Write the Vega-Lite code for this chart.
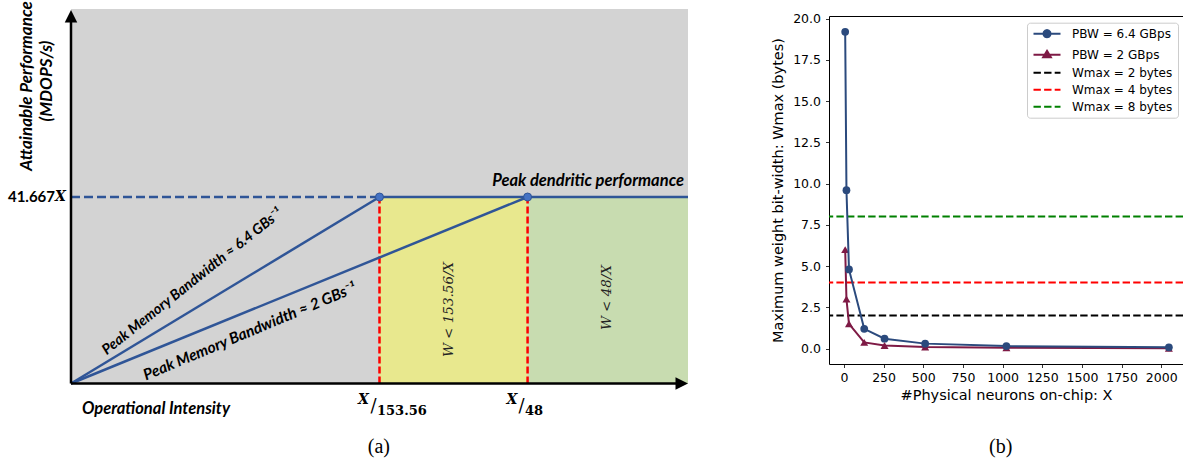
{
  "$schema": "https://vega.github.io/schema/vega-lite/v6.json",
  "padding": 0,
  "background": "white",
  "config": {
    "view": {"stroke": null},
    "font": "DejaVu Sans",
    "axis": {"labelFont": "DejaVu Sans", "labelFontSize": 12.5, "labelColor": "#000", "tickColor": "#000", "tickSize": 3.5, "tickWidth": 0.8, "domain": false, "grid": false, "titleFont": "DejaVu Sans", "titleFontSize": 14.5, "titleFontWeight": "normal", "titleColor": "#000", "labelFlush": false, "labelOverlap": false},
    "axisX": {"labelPadding": 4, "titlePadding": 4},
    "axisY": {"labelPadding": 5, "titlePadding": 7},
    "legend": {"title": null, "orient": "none", "legendX": 1027, "legendY": 22.7, "symbolSize": 81, "symbolStrokeWidth": 2, "symbolOpacity": 1, "labelFont": "DejaVu Sans", "labelFontSize": 12, "labelColor": "#000", "labelOffset": 28, "rowPadding": 5, "padding": 5, "fillColor": "#ffffff", "strokeColor": "#cccccc", "cornerRadius": 3}
  },
  "datasets": {
    "a_hatch": [{"region": "memory-bound area", "x": 0, "x2": 100, "y": 0, "y2": 200.8}],
    "a_yellow": [{"region": "W < 153.56/X", "x": 50, "x2": 74, "y": 0, "y2": 100}],
    "a_green": [{"region": "W < 48/X", "x": 74, "x2": 100, "y": 0, "y2": 100}],
    "a_guide": [{"x": 0, "y": 100, "x2": 50, "y2": 100}],
    "a_bounds": [{"x": 50, "y": 0, "x2": 50, "y2": 100}, {"x": 74, "y": 0, "x2": 74, "y2": 100}],
    "a_roof": [{"seg": "6.4 GBps slope", "x": 0, "y": 0, "x2": 50, "y2": 100}, {"seg": "2 GBps slope", "x": 0, "y": 0, "x2": 74, "y2": 100}, {"seg": "peak", "x": 50, "y": 100, "x2": 100, "y2": 100}],
    "a_axes": [{"x": 0, "y": 0, "x2": 98.5, "y2": 0}, {"x": 0, "y": 0, "x2": 0, "y2": 194}],
    "a_arrow_up": [{"x": 0, "y": 200.3}],
    "a_arrow_right": [{"x": 100, "y": 0}],
    "a_knees": [{"x": 50, "y": 100}, {"x": 74, "y": 100}],
    "a_ytitle": [{"text": "Attainable Performance", "x": -7.13, "y": 159.5}, {"text": "(MDOPS/s)", "x": -3.89, "y": 162.2}],
    "a_yval": [{"text": "41.667", "x": -2.59, "y": 100}],
    "a_yvalX": [{"text": "X", "x": -2.59, "y": 100}],
    "a_xtitle": [{"text": "Operational Intensity", "x": 1.78, "y": -13.7}],
    "a_peak": [{"text": "Peak dendritic performance", "x": 99.35, "y": 108.6}],
    "a_slope64": [{"text": "Peak Memory Bandwidth ≈ 6.4 GBs⁻¹", "x": 19.7, "y": 54.5}],
    "a_slope2": [{"text": "Peak Memory Bandwidth ≈ 2 GBs⁻¹", "x": 29.0, "y": 27.9}],
    "a_wregion": [{"text": "W < 153.56/X", "x": 61.26, "y": 39.7}, {"text": "W < 48/X", "x": 86.8, "y": 46.1}],
    "a_xtickX": [{"text": "X", "x": 47.4, "y": -8.85}, {"text": "X", "x": 71.47, "y": -8.85}],
    "a_xtickSlash": [{"text": "/", "x": 49.03, "y": -12.6}, {"text": "/", "x": 73.0, "y": -12.6}],
    "a_xtickNum": [{"text": "153.56", "x": 49.6, "y": -14.75}, {"text": "48", "x": 73.58, "y": -14.75}],
    "a_caption": [{"text": "(a)", "x": 49.9, "y": -34.0}],
    "bw": [
      {"X": 8, "W": 19.2, "series": "PBW = 6.4 GBps"},
      {"X": 16, "W": 9.6, "series": "PBW = 6.4 GBps"},
      {"X": 32, "W": 4.8, "series": "PBW = 6.4 GBps"},
      {"X": 128, "W": 1.2, "series": "PBW = 6.4 GBps"},
      {"X": 256, "W": 0.6, "series": "PBW = 6.4 GBps"},
      {"X": 512, "W": 0.3, "series": "PBW = 6.4 GBps"},
      {"X": 1024, "W": 0.15, "series": "PBW = 6.4 GBps"},
      {"X": 2048, "W": 0.075, "series": "PBW = 6.4 GBps"},
      {"X": 8, "W": 6.0, "series": "PBW = 2 GBps"},
      {"X": 16, "W": 3.0, "series": "PBW = 2 GBps"},
      {"X": 32, "W": 1.5, "series": "PBW = 2 GBps"},
      {"X": 128, "W": 0.375, "series": "PBW = 2 GBps"},
      {"X": 256, "W": 0.1875, "series": "PBW = 2 GBps"},
      {"X": 512, "W": 0.094, "series": "PBW = 2 GBps"},
      {"X": 1024, "W": 0.047, "series": "PBW = 2 GBps"},
      {"X": 2048, "W": 0.023, "series": "PBW = 2 GBps"}
    ],
    "wmax": [{"W": 2, "series": "Wmax = 2 bytes"}, {"W": 4, "series": "Wmax = 4 bytes"}, {"W": 8, "series": "Wmax = 8 bytes"}],
    "b_caption": [{"text": "(b)", "X": 987.7, "W": -5.96}]
  },
  "spacing": 141,
  "bounds": "flush",
  "hconcat": [
    {
      "width": 688,
      "height": 464,
      "encoding": {
        "x": {"field": "x", "type": "quantitative", "scale": {"domain": [-11.507, 100], "nice": false, "zero": false}, "axis": null},
        "y": {"field": "y", "type": "quantitative", "scale": {"domain": [-43.16, 205.63], "nice": false, "zero": false}, "axis": null}
      },
      "layer": [
        {"data": {"name": "a_hatch"}, "mark": {"type": "rect", "color": "#d3d3d3"}, "encoding": {"x2": {"field": "x2"}, "y2": {"field": "y2"}}},
        {"data": {"name": "a_yellow"}, "mark": {"type": "rect", "color": "#e8e88e"}, "encoding": {"x2": {"field": "x2"}, "y2": {"field": "y2"}}},
        {"data": {"name": "a_green"}, "mark": {"type": "rect", "color": "#c8dcb0"}, "encoding": {"x2": {"field": "x2"}, "y2": {"field": "y2"}}},
        {"data": {"name": "a_guide"}, "mark": {"type": "rule", "color": "#2f5597", "strokeWidth": 2.5, "strokeDash": [9, 4]}, "encoding": {"x2": {"field": "x2"}, "y2": {"field": "y2"}}},
        {"data": {"name": "a_bounds"}, "mark": {"type": "rule", "color": "#ff0000", "strokeWidth": 2.5, "strokeDash": [7, 3]}, "encoding": {"x2": {"field": "x2"}, "y2": {"field": "y2"}}},
        {"data": {"name": "a_roof"}, "mark": {"type": "rule", "color": "#2f5597", "strokeWidth": 2.5}, "encoding": {"x2": {"field": "x2"}, "y2": {"field": "y2"}}},
        {"data": {"name": "a_axes"}, "mark": {"type": "rule", "color": "#000000", "strokeWidth": 2.5}, "encoding": {"x2": {"field": "x2"}, "y2": {"field": "y2"}}},
        {"data": {"name": "a_arrow_up"}, "mark": {"type": "point", "filled": true, "color": "#000000", "opacity": 1, "size": 156, "shape": "M-1,2L0,0L1,2Z"}},
        {"data": {"name": "a_arrow_right"}, "mark": {"type": "point", "filled": true, "color": "#000000", "opacity": 1, "size": 156, "shape": "M-2,-1L0,0L-2,1Z"}},
        {"data": {"name": "a_knees"}, "mark": {"type": "point", "filled": true, "fill": "#4472c4", "stroke": "#2f5597", "strokeWidth": 1, "opacity": 1, "size": 64}},
        {"data": {"name": "a_ytitle"}, "mark": {"type": "text", "angle": 270, "align": "center", "baseline": "middle", "font": "Lato", "fontWeight": "bold", "fontStyle": "italic", "fontSize": 17, "color": "#000"}, "encoding": {"text": {"field": "text"}}},
        {"data": {"name": "a_yval"}, "mark": {"type": "text", "align": "right", "baseline": "middle", "font": "Lato", "fontWeight": "bold", "fontSize": 15, "color": "#000"}, "encoding": {"text": {"field": "text"}}},
        {"data": {"name": "a_yvalX"}, "mark": {"type": "text", "align": "left", "baseline": "middle", "font": "DejaVu Serif", "fontWeight": "bold", "fontStyle": "italic", "fontSize": 14, "color": "#000"}, "encoding": {"text": {"field": "text"}}},
        {"data": {"name": "a_xtitle"}, "mark": {"type": "text", "align": "left", "baseline": "middle", "font": "Lato", "fontWeight": "bold", "fontStyle": "italic", "fontSize": 16.5, "color": "#000"}, "encoding": {"text": {"field": "text"}}},
        {"data": {"name": "a_peak"}, "mark": {"type": "text", "align": "right", "baseline": "middle", "font": "Lato", "fontWeight": "bold", "fontStyle": "italic", "fontSize": 16.5, "color": "#000"}, "encoding": {"text": {"field": "text"}}},
        {"data": {"name": "a_slope64"}, "mark": {"type": "text", "angle": 321.5, "align": "center", "baseline": "middle", "font": "Lato", "fontWeight": "bold", "fontStyle": "italic", "fontSize": 14.5, "color": "#000"}, "encoding": {"text": {"field": "text"}}},
        {"data": {"name": "a_slope2"}, "mark": {"type": "text", "angle": 337.2, "align": "center", "baseline": "middle", "font": "Lato", "fontWeight": "bold", "fontStyle": "italic", "fontSize": 15.5, "color": "#000"}, "encoding": {"text": {"field": "text"}}},
        {"data": {"name": "a_wregion"}, "mark": {"type": "text", "angle": 270, "align": "center", "baseline": "middle", "font": "DejaVu Serif", "fontStyle": "italic", "fontSize": 13.5, "color": "#222"}, "encoding": {"text": {"field": "text"}}},
        {"data": {"name": "a_xtickX"}, "mark": {"type": "text", "align": "center", "baseline": "middle", "font": "DejaVu Serif", "fontWeight": "bold", "fontStyle": "italic", "fontSize": 14, "color": "#000"}, "encoding": {"text": {"field": "text"}}},
        {"data": {"name": "a_xtickSlash"}, "mark": {"type": "text", "align": "center", "baseline": "middle", "font": "DejaVu Serif", "fontSize": 18, "color": "#000"}, "encoding": {"text": {"field": "text"}}},
        {"data": {"name": "a_xtickNum"}, "mark": {"type": "text", "align": "left", "baseline": "middle", "font": "DejaVu Serif", "fontWeight": "bold", "fontSize": 13, "color": "#000"}, "encoding": {"text": {"field": "text"}}},
        {"data": {"name": "a_caption"}, "mark": {"type": "text", "align": "center", "baseline": "middle", "font": "Liberation Serif", "fontSize": 20, "color": "#000"}, "encoding": {"text": {"field": "text"}}}
      ]
    },
    {
      "spacing": 0,
      "bounds": "flush",
      "vconcat": [
        {"width": 354, "height": 16, "data": {"values": [{"text": ""}]}, "mark": {"type": "text", "text": ""}},
        {
          "width": 354,
          "height": 348,
          "view": {"stroke": "#000000", "strokeWidth": 1},
          "layer": [
            {
              "data": {"name": "wmax"},
              "transform": [{"filter": "datum.series === 'Wmax = 2 bytes'"}],
              "mark": {"type": "rule", "color": "#000000", "strokeWidth": 2, "strokeDash": [7.4, 3.2]},
              "encoding": {"y": {"field": "W", "type": "quantitative", "scale": {"domain": [-0.935, 20.159], "nice": false, "zero": false}, "axis": {"values": [0, 2.5, 5, 7.5, 10, 12.5, 15, 17.5, 20], "format": ".1f", "title": "Maximum weight bit-width: Wmax (bytes)"}}}
            },
            {
              "data": {"name": "wmax"},
              "transform": [{"filter": "datum.series === 'Wmax = 4 bytes'"}],
              "mark": {"type": "rule", "color": "#ff0000", "strokeWidth": 2, "strokeDash": [7.4, 3.2]},
              "encoding": {"y": {"field": "W", "type": "quantitative", "scale": {"domain": [-0.935, 20.159], "nice": false, "zero": false}, "axis": {"values": [0, 2.5, 5, 7.5, 10, 12.5, 15, 17.5, 20], "format": ".1f", "title": "Maximum weight bit-width: Wmax (bytes)"}}}
            },
            {
              "data": {"name": "wmax"},
              "transform": [{"filter": "datum.series === 'Wmax = 8 bytes'"}],
              "mark": {"type": "rule", "color": "#008000", "strokeWidth": 2, "strokeDash": [7.4, 3.2]},
              "encoding": {"y": {"field": "W", "type": "quantitative", "scale": {"domain": [-0.935, 20.159], "nice": false, "zero": false}, "axis": {"values": [0, 2.5, 5, 7.5, 10, 12.5, 15, 17.5, 20], "format": ".1f", "title": "Maximum weight bit-width: Wmax (bytes)"}}}
            },
            {
              "encoding": {
                "x": {"field": "X", "type": "quantitative", "scale": {"domain": [-94, 2137], "nice": false, "zero": false}, "axis": {"values": [0, 250, 500, 750, 1000, 1250, 1500, 1750, 2000], "format": "d", "title": "#Physical neurons on-chip: X"}},
                "y": {"field": "W", "type": "quantitative", "scale": {"domain": [-0.935, 20.159], "nice": false, "zero": false}, "axis": {"values": [0, 2.5, 5, 7.5, 10, 12.5, 15, 17.5, 20], "format": ".1f", "title": "Maximum weight bit-width: Wmax (bytes)"}}
              },
              "layer": [
                {
                  "data": {"name": "bw"},
                  "transform": [{"filter": "datum.series === 'PBW = 2 GBps'"}],
                  "mark": {"type": "line", "color": "#7e1a45", "strokeWidth": 2, "point": {"filled": true, "shape": "triangle-up", "size": 64, "color": "#7e1a45", "opacity": 1}}
                },
                {
                  "data": {"name": "bw"},
                  "transform": [{"filter": "datum.series === 'PBW = 6.4 GBps'"}],
                  "mark": {"type": "line", "color": "#2b4a7d", "strokeWidth": 2, "point": {"filled": true, "shape": "circle", "size": 60, "color": "#2b4a7d", "opacity": 1}}
                },
                {
                  "data": {"name": "bw"},
                  "mark": {"type": "point", "filled": true, "opacity": 0},
                  "encoding": {
                    "fill": {"field": "series", "type": "nominal", "scale": {"domain": ["PBW = 6.4 GBps", "PBW = 2 GBps", "Wmax = 2 bytes", "Wmax = 4 bytes", "Wmax = 8 bytes"], "range": ["#2b4a7d", "#7e1a45", "#000000", "#ff0000", "#008000"]}},
                    "stroke": {"field": "series", "type": "nominal", "scale": {"domain": ["PBW = 6.4 GBps", "PBW = 2 GBps", "Wmax = 2 bytes", "Wmax = 4 bytes", "Wmax = 8 bytes"], "range": ["#2b4a7d", "#7e1a45", "#000000", "#ff0000", "#008000"]}},
                    "shape": {"field": "series", "type": "nominal", "scale": {"domain": ["PBW = 6.4 GBps", "PBW = 2 GBps", "Wmax = 2 bytes", "Wmax = 4 bytes", "Wmax = 8 bytes"], "range": ["M-1,0L5,0M2.8,0L2.69,0.4L2.4,0.69L2,0.8L1.6,0.69L1.31,0.4L1.2,0L1.31,-0.4L1.6,-0.69L2,-0.8L2.4,-0.69L2.69,-0.4Z", "M-1,0L5,0M2,-0.85L2.85,0.55L1.15,0.55Z", "M-1,0L0.64,0M1.36,0L3,0M3.71,0L5,0", "M-1,0L0.64,0M1.36,0L3,0M3.71,0L5,0", "M-1,0L0.64,0M1.36,0L3,0M3.71,0L5,0"]}}
                  }
                },
                {
                  "data": {"name": "b_caption"},
                  "mark": {"type": "text", "align": "center", "baseline": "middle", "font": "Liberation Serif", "fontSize": 20, "color": "#000"},
                  "encoding": {"text": {"field": "text"}}
                }
              ]
            }
          ]
        }
      ]
    }
  ]
}
